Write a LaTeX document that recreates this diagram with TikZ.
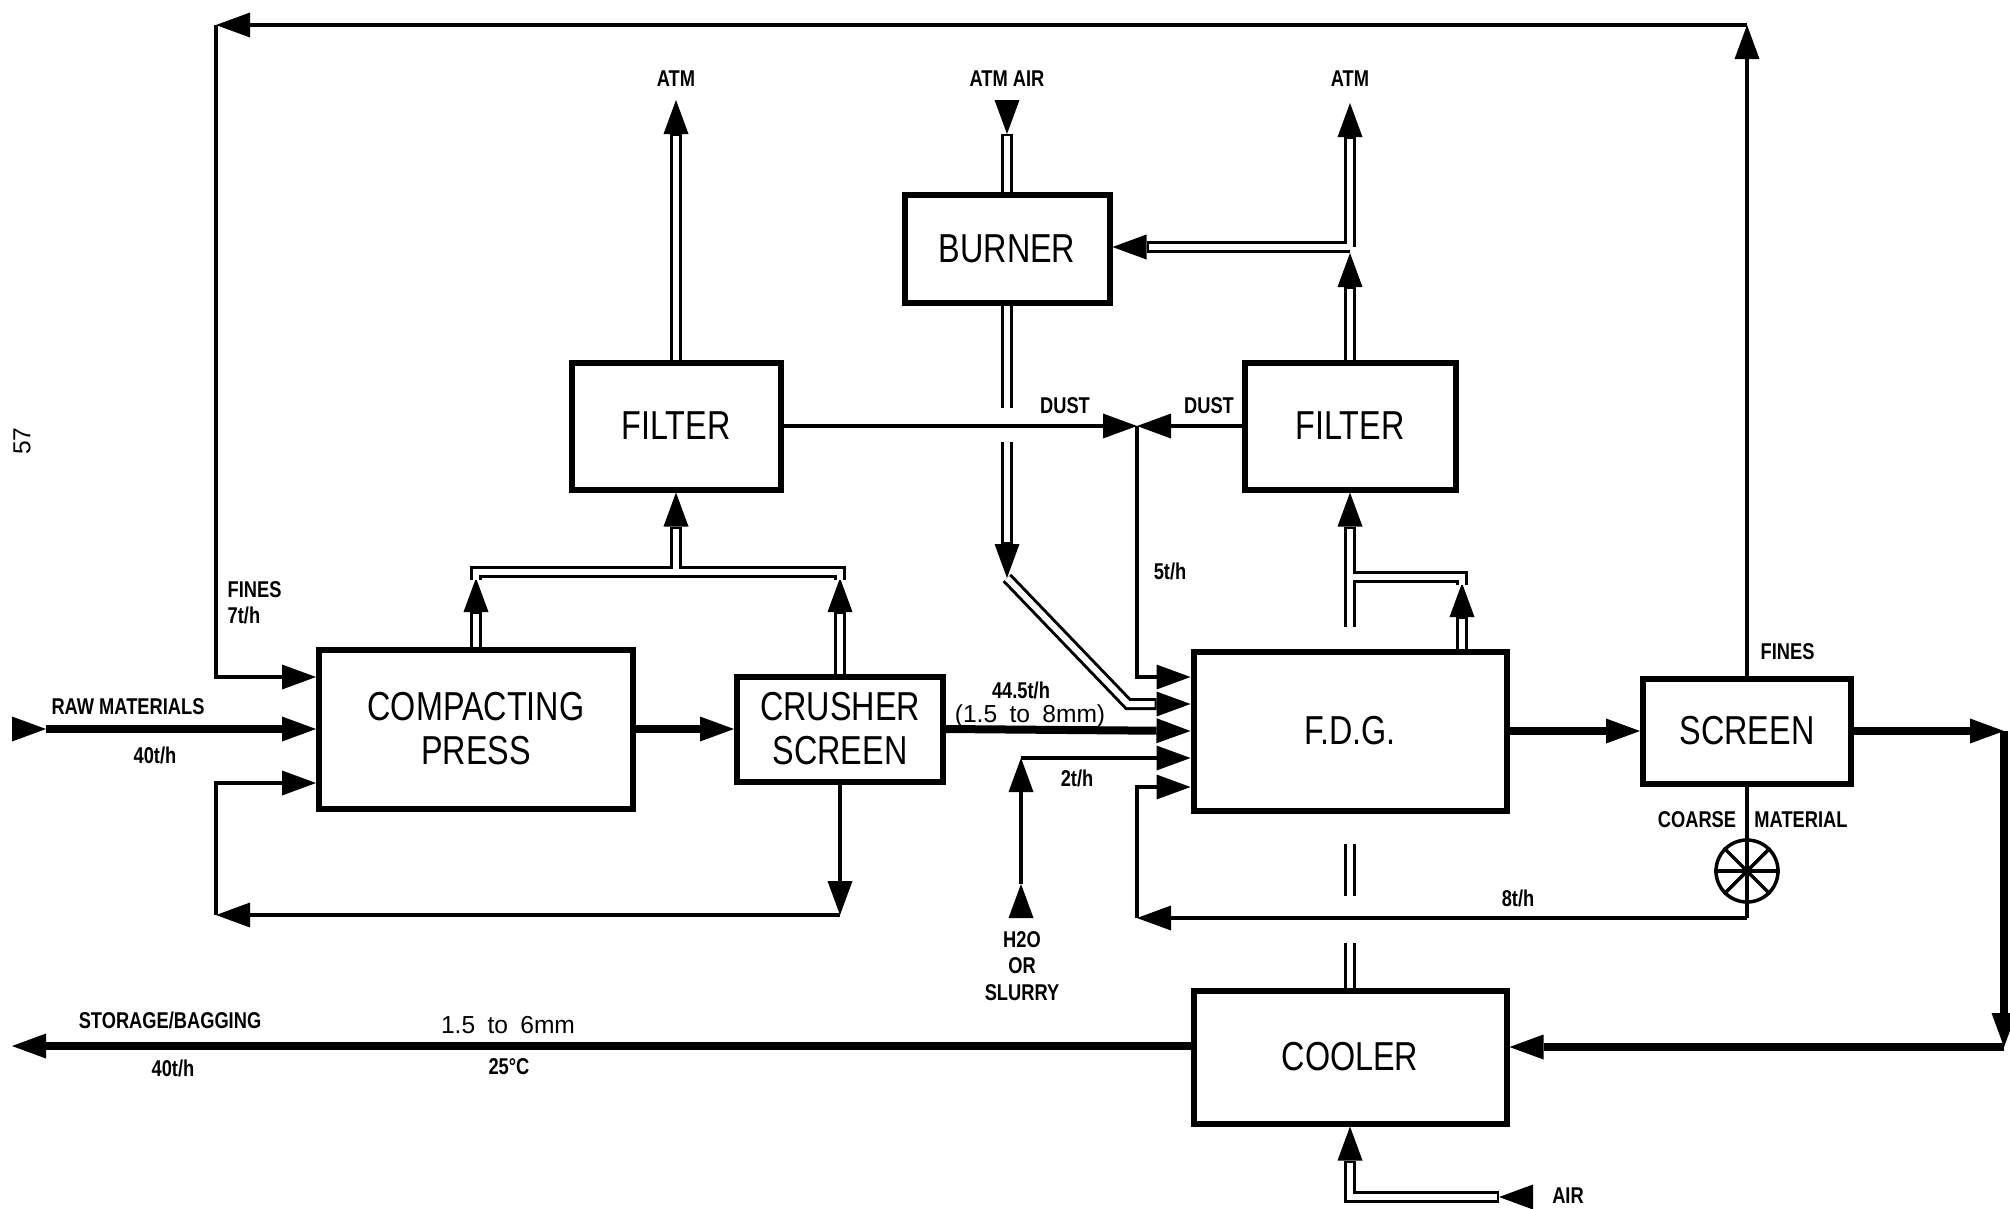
\documentclass[tikz,border=0pt]{standalone}
\usepackage{fontspec}
\setmainfont{Liberation Sans}[FakeStretch=0.8]
\newfontfamily\plainsans{Liberation Sans}
\usetikzlibrary{arrows.meta,backgrounds}

% double-line ducts: called once for the dark pass, once for the light pass
\newcommand{\ductnet}{%
	% vents of press and crusher to the left filter
	\draw[pipeline, arr] (press.north) -- ([yshift=-0.6mm]ljp);
	\draw[pipeline, arr] (crusher.north) -- ([yshift=-0.6mm]ljc);
	\draw[pipeline] ([yshift=-0.8mm]ljp) -- (ljp) -- (ljc) -- ([yshift=-0.8mm]ljc);
	\draw[pipeline, arr] (lj) -- (filterl.south);
	\draw[pipeline, arr] (filterl.north) -- (atml);
	% burner
	\draw[pipeline, tailarr] (atmair) -- (burner.north);
	\draw[pipeline] (burner.south) -- (gapa);
	\draw[pipeline, arr] (gapb) -- (bend1);
	\draw[pipeline, arr] (bend1) -- (bend2) -- (fin2);
	% F.D.G. off-gas to the right filter
	\draw[pipeline, arr] (rstub) -- (filterr.south);
	\draw[pipeline] (rj) -- (rc) -- ([yshift=-0.8mm]rc);
	\draw[pipeline, arr] (fdg.north -| rc) -- ([yshift=-0.6mm]rc);
	\draw[pipeline, arr] (filterr.north) -- ([yshift=-0.6mm]bj);
	\draw[pipeline, arr] (bj) -- (atmr);
	\draw[pipeline, arr] (bj) -- (bj -| burner.east);
	% F.D.G. to cooler, cooling air
	\draw[pipeline] ([yshift=-3mm]fdg.south) -- ++(0,52);
	\draw[pipeline] (coolerstub) -- (cooler.north);
	\draw[pipeline, botharr] (airin) -| (cooler.south);
}

\begin{document}
\begin{tikzpicture}[x=0.1mm, y=-0.1mm, >={Triangle[length=3.4mm, width=2.5mm, line width=0pt]},
	box/.style={draw, line width=0.6mm, inner sep=0pt, align=center, font=\fontsize{11.5}{12.5}\selectfont},
	lbl/.style={inner sep=0.5mm, align=center, font=\fontsize{6.5}{7.5}\selectfont\bfseries},
	thinlbl/.style={inner sep=0.5mm, font=\plainsans\fontsize{7}{8}\selectfont},
	thinline/.style={line width=0.35mm},
	mainline/.style={line width=0.8mm},
	valve/.style={circle, draw, line width=0.35mm, minimum size=6.2mm, inner sep=0pt}]
	\useasboundingbox (0,0) rectangle (2010,1208);
	
	% Boxes
	\node[box, minimum width=31.4mm, minimum height=15.9mm] (press) at (476,729) {COMPACTING\\PRESS};
	\node[box, minimum width=20.6mm, minimum height=10.5mm] (crusher) at (840,729) {CRUSHER\\SCREEN};
	\node[box, minimum width=20.9mm, minimum height=12.7mm] (filterl) at (676,426) {FILTER};
	\node[box, minimum width=20.5mm, minimum height=10.8mm] (burner) at (1007,249) {BURNER};
	\node[box, minimum width=21.1mm, minimum height=12.7mm] (filterr) at (1350,426) {FILTER};
	\node[box, minimum width=31.3mm, minimum height=15.9mm] (fdg) at (1350,731) {F.D.G.};
	\node[box, minimum width=20.8mm, minimum height=10.5mm] (screen) at (1747,731) {SCREEN};
	\node[box, minimum width=31.3mm, minimum height=13.3mm] (cooler) at (1350,1057) {COOLER};
	\node[valve] (valve) at (1747,871) {};
	
	% Corners and free ends
	\coordinate (raw) at (12,729);
	\coordinate (store) at (12,1046);
	\coordinate (ctr) at (1747,25);
	\coordinate (ctl) at (216,25);
	\coordinate (cbl) at (216,915);
	\coordinate (lj) at (676,572);
	\coordinate (ljp) at (press.north |- lj);
	\coordinate (ljc) at (crusher.north |- lj);
	\coordinate (atml) at (676,100);
	\coordinate (atmair) at (1007,100);
	\coordinate (gapa) at (1007,408);
	\coordinate (gapb) at (1007,442);
	\coordinate (bend1) at (1007,578);
	\coordinate (bend2) at (1128,704);
	\coordinate (dj) at (1137,426);
	\coordinate (bj) at (1350,247);
	\coordinate (atmr) at (1350,103);
	\coordinate (rj) at (1350,577);
	\coordinate (rc) at (1462,577);
	\coordinate (rstub) at (1350,627);
	\coordinate (coolerstub) at (1350,943);
	\coordinate (airin) at (1533,1197);
	\coordinate (h2o) at (1021,918);
	\coordinate (c8) at (1747,918);
	\coordinate (cr1) at (2004,731);
	\coordinate (cr2) at (2004,1047);
	\coordinate (fin1) at ([yshift=5.4mm]fdg.west);
	\coordinate (fin2) at ([yshift=2.7mm]fdg.west);
	\coordinate (fin4) at ([yshift=-2.7mm]fdg.west);
	\coordinate (fin5) at ([yshift=-5.6mm]fdg.west);
	
	% Ducts (behind the boxes)
	\begin{pgfonlayer}{background}
		\fill[white] (0,0) rectangle (2010,1208);
		\begin{scope}[pipeline/.style={line width=1.2mm}, arr/.style={->}, tailarr/.style={>-}, botharr/.style={>->}]
			\ductnet
		\end{scope}
		\begin{scope}[pipeline/.style={white, line width=0.6mm}, arr/.style={shorten >=3.6mm}, tailarr/.style={shorten <=3.6mm}, botharr/.style={shorten <=3.6mm, shorten >=3.6mm}]
			\ductnet
		\end{scope}
	\end{pgfonlayer}
	
	% Main flow
	\draw[mainline, >->] (raw) -- (press.west);
	\draw[mainline, ->] (press.east) -- (crusher.west);
	\draw[mainline, ->] (crusher.east) -- (fdg.west);
	\draw[mainline, ->] (fdg.east) -- (screen.west);
	\draw[mainline, ->] (screen.east) -- (cr1);
	\draw[mainline, ->] (cr1) -- (cr2);
	\draw[mainline, ->] (cr2) -- (cr2 -| cooler.east);
	\draw[mainline, ->] (cooler.west |- store) -- (store);
	
	% Fines return
	\draw[thinline, ->] (screen.north) -- (ctr);
	\draw[thinline, ->] (ctr) -- (ctl);
	\draw[thinline, ->] (ctl) |- ([yshift=5.2mm]press.west);
	
	% Oversize return
	\draw[thinline, ->] (crusher.south) -- (crusher.south |- cbl);
	\draw[thinline, ->] (crusher.south |- cbl) -- (cbl);
	\draw[thinline, ->] (cbl) |- ([yshift=-5.4mm]press.west);
	
	% Dust and water
	\draw[thinline, ->] (filterl.east) -- (dj);
	\draw[thinline, ->] (filterr.west) -- (dj);
	\draw[thinline, ->] (dj) |- (fin1);
	\draw[thinline, >->] (h2o) -- (h2o |- fin4);
	\draw[thinline, ->] (h2o |- fin4) -- (fin4);
	
	% Coarse material through the rotary valve
	\draw[thinline] (screen.south) -- (valve.north);
	\draw[thinline] (valve.south) -- (c8);
	\draw[thinline, ->] (c8) -- (dj |- c8);
	\draw[thinline, ->] (dj |- c8) |- (fin5);
	\foreach \a/\b in {0/180,45/225,90/270,135/315}
		\draw[thinline] (valve.\a) -- (valve.\b);
	
	% Labels
	\node[lbl] (latml) at (676,79) {ATM};
	\node[lbl] (latmair) at (1007,79) {ATM AIR};
	\node[lbl] (latmr) at (1350,79) {ATM};
	\node[lbl] (ldustl) at (1065,406) {DUST};
	\node[lbl] (ldustr) at (1209,406) {DUST};
	\node[lbl] (l5) at (1170,571) {5t/h};
	\node[lbl, align=left, anchor=west] (lfines7) at (222,603) {FINES\\7t/h};
	\node[lbl] (lraw) at (128,707) {RAW MATERIALS};
	\node[lbl] (lraw40) at (155,755) {40t/h};
	\node[lbl] (l445) at (1021,690) {44.5t/h};
	\node[thinlbl] (lsize) at (1030,716) {(1.5\enspace to\enspace 8mm)};
	\node[lbl] (l2) at (1077,778) {2t/h};
	\node[lbl] (lh2o) at (1022,966) {H2O\\OR\\SLURRY};
	\node[lbl, anchor=west] (lfines) at (1755,652) {FINES};
	\node[lbl] (lcoarse) at (1697,820) {COARSE};
	\node[lbl] (lmat) at (1801,820) {MATERIAL};
	\node[lbl] (l8) at (1518,898) {8t/h};
	\node[lbl] (lstore) at (170,1020) {STORAGE/BAGGING};
	\node[lbl] (lstore40) at (173,1068) {40t/h};
	\node[thinlbl] (lsize2) at (508,1025) {1.5\enspace to\enspace 6mm};
	\node[lbl] (ltemp) at (509,1067) {25°C};
	\node[lbl] (lair) at (1568,1196) {AIR};
	\node[thinlbl, rotate=90] (lpage) at (22,441) {57};
\end{tikzpicture}
\end{document}
